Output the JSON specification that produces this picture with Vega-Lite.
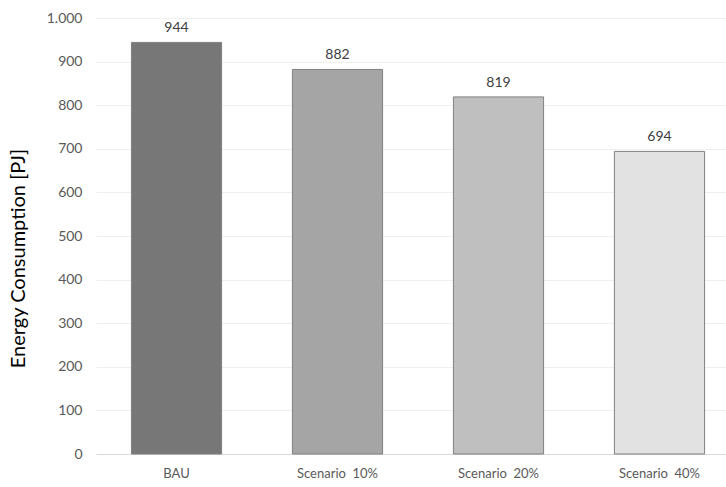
{
  "$schema": "https://vega.github.io/schema/vega-lite/v6.json",
  "autosize": "none",
  "padding": {"left": 96, "top": 18, "right": 0, "bottom": 33},
  "width": 644,
  "height": 436,
  "background": "white",
  "config": {"view": {"stroke": null}, "font": "Lato"},
  "data": {"values": [
    {"scenario": "BAU", "value": 944, "color": "#777777"},
    {"scenario": "Scenario \u00a010%", "value": 882, "color": "#a5a5a5"},
    {"scenario": "Scenario \u00a020%", "value": 819, "color": "#bfbfbf"},
    {"scenario": "Scenario \u00a040%", "value": 694, "color": "#e2e2e2"}
  ]},
  "encoding": {
    "x": {"field": "scenario", "type": "nominal", "sort": null,
      "scale": {"paddingInner": 0.44, "paddingOuter": 0.22},
      "axis": {"title": null, "labelAngle": 0, "ticks": false, "domainColor": "#d9d9d9", "domainWidth": 1, "labelFontSize": 13, "labelColor": "#595959", "labelPadding": 13}},
    "y": {"field": "value", "type": "quantitative",
      "scale": {"domain": [0, 1000]},
      "axis": {"title": "Energy Consumption [PJ]", "titleFontSize": 20, "titleFontWeight": "normal", "titleColor": "#000000", "titlePadding": 18, "titleY": 240, "values": [0,100,200,300,400,500,600,700,800,900,1000], "labelExpr": "datum.value == 1000 ? '1.000' : datum.label", "labelFontSize": 14, "labelColor": "#595959", "labelPadding": 14, "ticks": false, "domain": false, "gridColor": "#efefef", "gridWidth": 1}}
  },
  "layer": [
    {"mark": {"type": "bar", "stroke": "#808080", "strokeWidth": 1},
     "encoding": {"color": {"field": "color", "type": "nominal", "scale": null}}},
    {"mark": {"type": "text", "dy": -14, "fontSize": 14, "color": "#404040"},
     "encoding": {"text": {"field": "value", "type": "quantitative"}}}
  ]
}
